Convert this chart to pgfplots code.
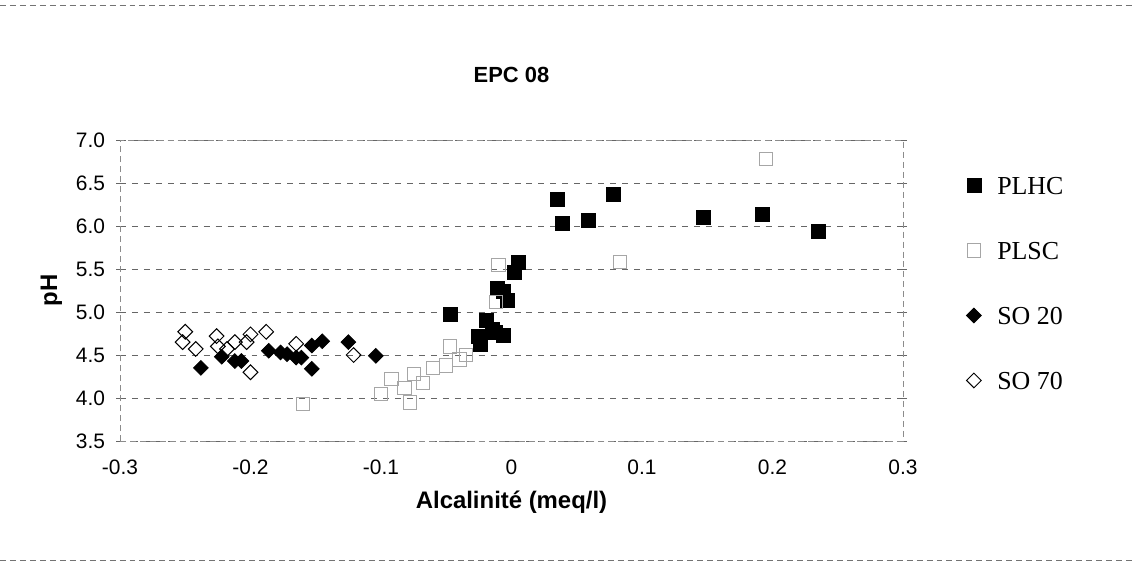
\documentclass[border=0pt]{standalone}
\usepackage{pgfplots}
\pgfplotsset{compat=1.18}
\usepackage{fontspec}
\setmainfont{Liberation Serif}
\setsansfont{Liberation Sans}
\begin{document}
\begin{tikzpicture}[x=1bp,y=1bp]
\path[use as bounding box] (0,0) rectangle (566,282.5);
\draw[black!55, densely dashed, line width=0.4bp] (0,280) -- (566,280);
\draw[black!55, densely dashed, line width=0.4bp] (0,2.5) -- (566,2.5);
\begin{axis}[
  at={(60bp,62bp)}, anchor=south west,
  scale only axis, width=391.5bp, height=150.5bp,
  xmin=-0.3, xmax=0.3, ymin=3.5, ymax=7.0,
  xtick={-0.3,-0.2,-0.1,0,0.1,0.2,0.3},
  xticklabels={-0.3,-0.2,-0.1,0,0.1,0.2,0.3},
  ytick={3.5,4.0,4.5,5.0,5.5,6.0,6.5,7.0},
  yticklabels={3.5,4.0,4.5,5.0,5.5,6.0,6.5,7.0},
  tick label style={font=\sffamily\fontsize{10.5}{12}\selectfont},
  xticklabel style={yshift=-4bp},
  yticklabel style={xshift=-2bp},
  tick align=outside, tick style={black!60, thin}, major tick length=2bp,
  xtick style={draw=none},
  ymajorgrids, grid style={black!60, dashed, line width=0.4bp},
  axis line style={black!45, densely dashed, line width=0.4bp},
  xlabel={\bfseries Alcalinité (meq/l)},
  ylabel={\bfseries pH},
  label style={font=\sffamily\bfseries\fontsize{12}{14}\selectfont},
  xlabel style={yshift=-1bp},
  ylabel style={yshift=0bp},
  title={\bfseries EPC 08},
  title style={font=\sffamily\bfseries\fontsize{11}{13}\selectfont, yshift=19bp},
  legend cell align=left,
  legend style={at={(1.073,0.895)}, anchor=north west, draw=none, fill=none,
    font=\rmfamily\fontsize{13}{14}\selectfont,
    nodes={inner sep=0pt, text height=9.5bp, text depth=0bp},
    row sep=23bp, column sep=8bp},
  clip=false,
]
% PLHC
\addplot[only marks, mark=square*, mark size=3.5bp, black] coordinates {
(-0.047,4.97) (-0.024,4.62) (-0.025,4.72) (-0.019,4.90) (-0.015,4.80)
(-0.012,4.76) (-0.006,4.73) (-0.011,5.28) (-0.006,5.24) (-0.003,5.13)
(0.002,5.46) (0.005,5.58)
(0.035,6.31) (0.039,6.03) (0.059,6.07) (0.078,6.37) (0.147,6.10)
(0.192,6.14) (0.235,5.94)
};
\addlegendentry{PLHC}
% PLSC
\addplot[only marks, mark=square, mark size=3.3bp, black!35, mark options={line width=0.4bp}] coordinates {
(-0.160,3.93) (-0.100,4.05) (-0.092,4.22) (-0.082,4.12) (-0.075,4.28)
(-0.078,3.95) (-0.068,4.18) (-0.060,4.35) (-0.050,4.38) (-0.040,4.45)
(-0.047,4.60) (-0.035,4.50) (-0.012,5.12) (-0.010,5.55) (0.083,5.58)
(0.195,6.78)
};
\addlegendentry{PLSC}
% SO 20
\addplot[only marks, mark=square*, mark size=2.6bp, black, mark options={rotate=45}] coordinates {
(-0.238,4.35) (-0.222,4.48) (-0.212,4.43) (-0.207,4.43) (-0.186,4.55)
(-0.177,4.53) (-0.172,4.51) (-0.165,4.47) (-0.161,4.47) (-0.153,4.34)
(-0.153,4.61) (-0.145,4.66) (-0.125,4.65) (-0.104,4.49)
};
\addlegendentry{SO 20}
% SO 70
\addplot[only marks, mark=square, mark size=2.6bp, black, mark options={rotate=45, line width=0.5bp, fill=white}] coordinates {
(-0.250,4.77) (-0.252,4.65) (-0.242,4.57) (-0.226,4.72) (-0.225,4.60)
(-0.218,4.57) (-0.212,4.65) (-0.200,4.74) (-0.203,4.65) (-0.188,4.77)
(-0.200,4.30) (-0.165,4.63) (-0.121,4.50)
};
\addlegendentry{SO 70}
\end{axis}
\end{tikzpicture}
\end{document}
